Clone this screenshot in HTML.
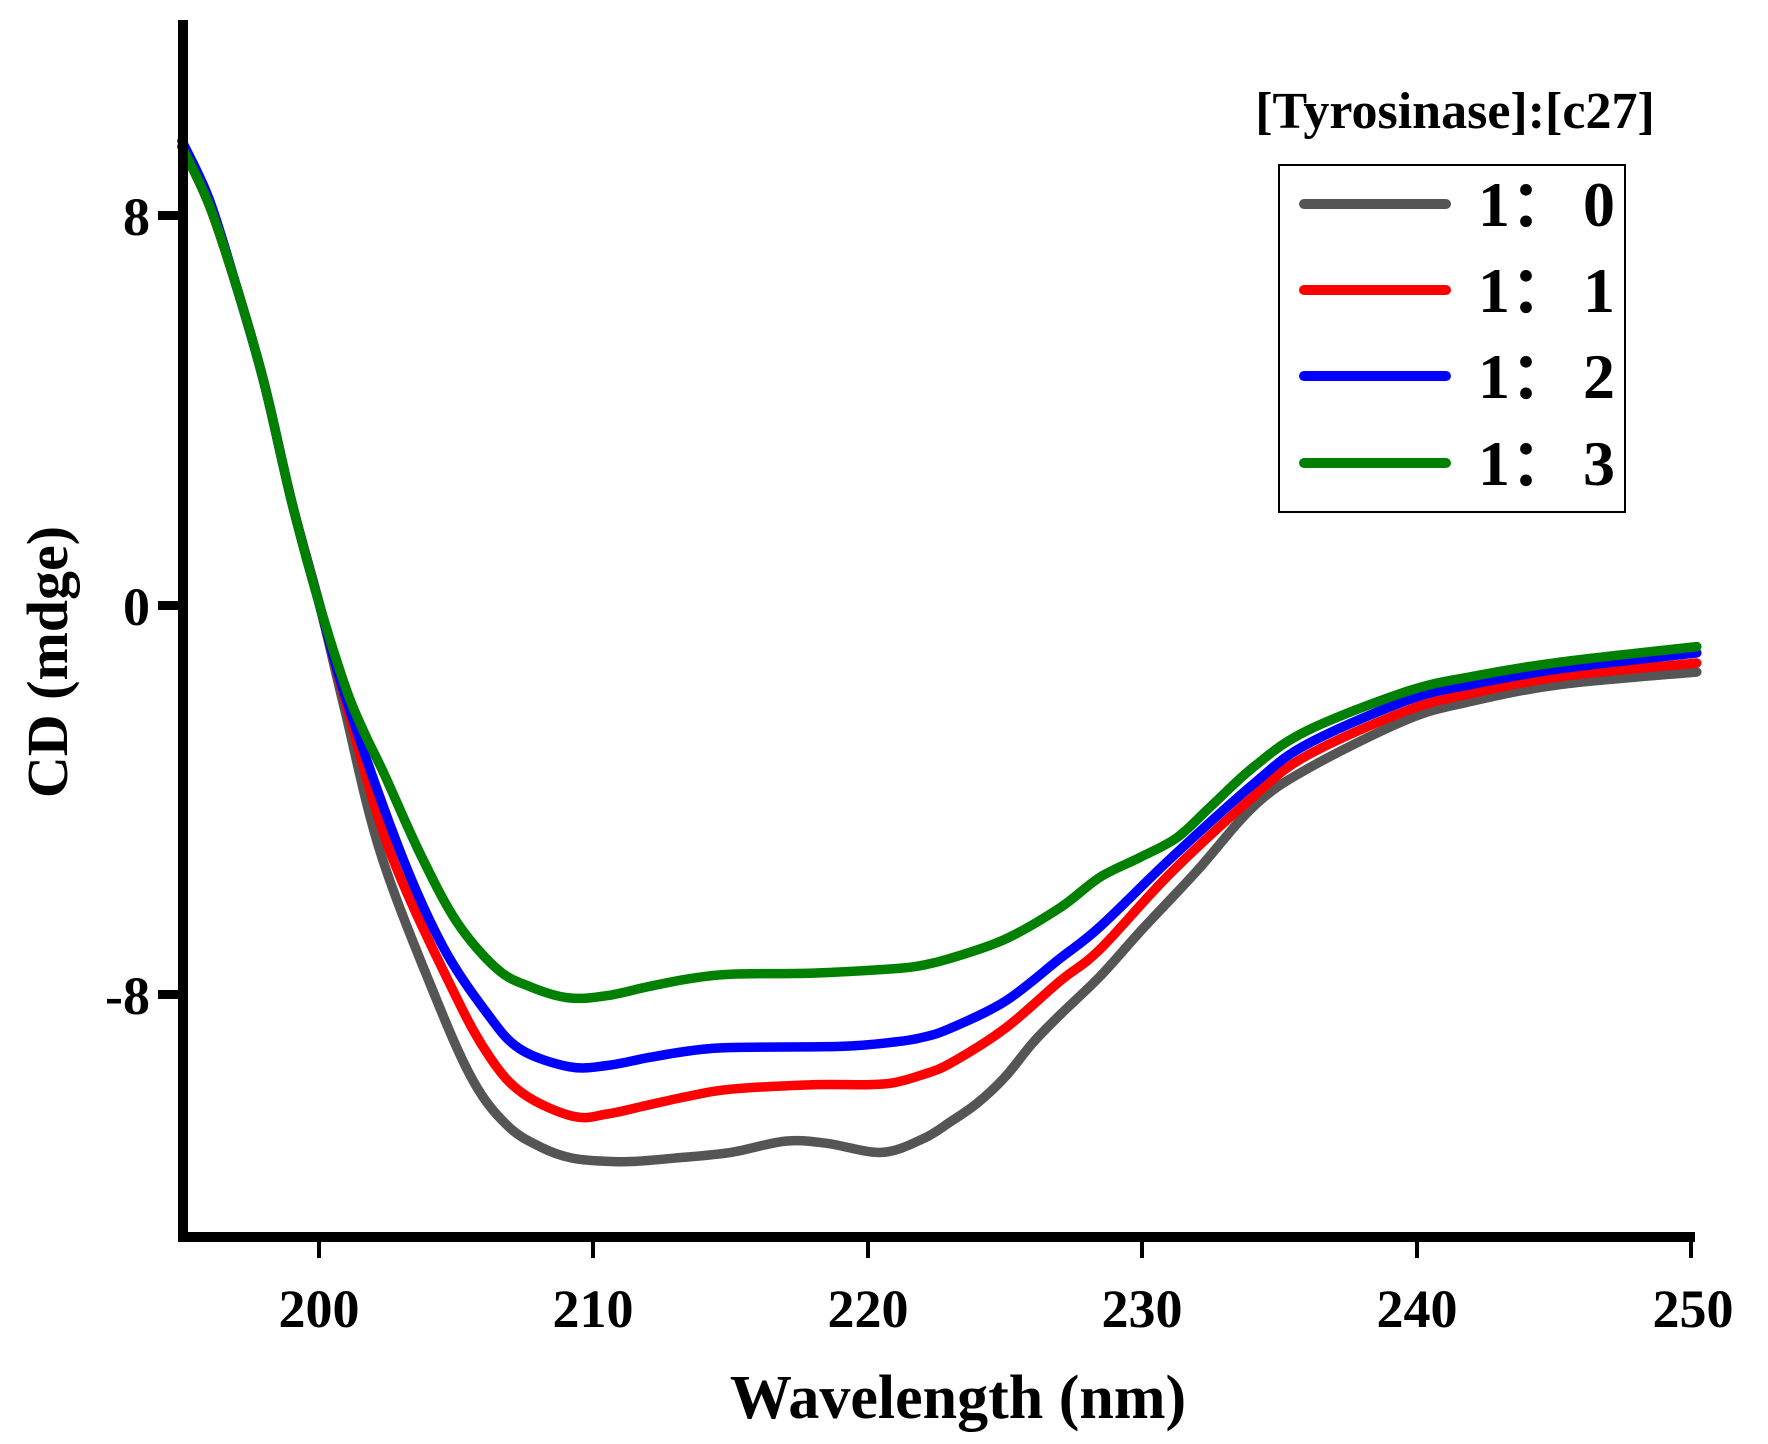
<!DOCTYPE html>
<html><head><meta charset="utf-8"><style>
html,body{margin:0;padding:0;background:#fff;}
svg{display:block;}
text{font-family:"Liberation Serif",serif;font-weight:bold;fill:#000;}
</style></head><body>
<svg id="s" width="1768" height="1444" viewBox="0 0 1768 1444" xmlns="http://www.w3.org/2000/svg">
<rect width="1768" height="1444" fill="#fff"/>
<g id="curves" fill="none" stroke-width="9.5" stroke-linejoin="round" stroke-linecap="round"></g>
<rect x="178" y="20" width="10" height="1222" fill="#000"/>
<rect x="178" y="1232" width="1517" height="10" fill="#000"/>
<rect x="158" y="211" width="22" height="9" fill="#000"/>
<rect x="158" y="601" width="22" height="9" fill="#000"/>
<rect x="158" y="990" width="22" height="9" fill="#000"/>
<g fill="#000">
<rect x="317" y="1240" width="4" height="18"/>
<rect x="591" y="1240" width="4" height="18"/>
<rect x="866" y="1240" width="4" height="18"/>
<rect x="1140" y="1240" width="4" height="18"/>
<rect x="1415" y="1240" width="4" height="18"/>
<rect x="1689" y="1240" width="4" height="18"/>
</g>
<g font-size="54" text-anchor="middle">
<text x="319" y="1327">200</text>
<text x="593" y="1327">210</text>
<text x="868" y="1327">220</text>
<text x="1142" y="1327">230</text>
<text x="1417" y="1327">240</text>
<text x="1693" y="1327">250</text>
</g>
<g font-size="54" text-anchor="end">
<text x="150" y="235">8</text>
<text x="150" y="625">0</text>
<text x="150" y="1014">-8</text>
</g>
<text x="958" y="1418" font-size="62" text-anchor="middle">Wavelength (nm)</text>
<text transform="translate(67,662) rotate(-90)" font-size="58" text-anchor="middle">CD (mdge)</text>
<text x="1455" y="128" font-size="52" text-anchor="middle">[Tyrosinase]:[c27]</text>
<rect x="1279" y="165" width="346" height="347" fill="none" stroke="#000" stroke-width="2"/>
<g stroke-width="10" stroke-linecap="round">
<line x1="1304" y1="204" x2="1446" y2="204" stroke="#555"/>
<line x1="1304" y1="290" x2="1446" y2="290" stroke="#f00"/>
<line x1="1304" y1="376" x2="1446" y2="376" stroke="#00f"/>
<line x1="1304" y1="463" x2="1446" y2="463" stroke="#008000"/>
</g>
<g font-size="64">
<text x="1478" y="226">1：</text><text x="1615" y="226" text-anchor="end">0</text>
<text x="1478" y="312">1：</text><text x="1615" y="312" text-anchor="end">1</text>
<text x="1478" y="398">1：</text><text x="1615" y="398" text-anchor="end">2</text>
<text x="1478" y="485">1：</text><text x="1615" y="485" text-anchor="end">3</text>
</g>
</svg>
<script>
var S=1.12755;
function X(w){return (283+(w-200)*24.34)*S;}
function Y(y){return y*S;}
var head=[[195,130],[196,182],[197,255],[198,340],[199,445],[200,535]];
var series=[
 ["#555",[[200.94,630],[202.22,755],[204.15,879],[205.6,958],[206.85,998],[208.05,1017],[209.2,1027],[210.5,1030],[211.5,1030],[213,1027],[215,1022],[217,1012],[218.5,1014],[220.5,1022],[222,1010],[223,995],[224,978],[225,955],[226,925],[227,900],[228.45,866],[230,824],[232,772],[234.06,715],[236,682],[239.66,638],[242,622],[245.27,607],[250.2,596]]],
 ["#f00",[[201,626],[202.58,755],[204.89,879],[206.23,938],[207.44,970],[209.25,990],[210.5,988],[212,980],[213.5,972],[215,966],[218,962],[220,962],[221,960],[222,953],[223,943],[225,912],[227,870],[228.45,842],[231,775],[234.06,706],[236,670],[239.66,630],[242,615],[245.27,600],[250.2,588]]],
 ["#00f",[[201,621],[202.95,755],[204.5,839],[206.1,898],[207.3,930],[209.1,946],[210.5,945],[212,938],[213.5,932],[215,929],[219,928],[221,924],[222,920],[223,912],[225,888],[227,850],[228.45,822],[231,762],[234.06,695],[236,660],[239.66,621],[242,607],[245.27,593],[250.2,579]]],
 ["#008000",[[201,612],[201.65,650],[202.4,688],[203.68,757],[205.0,817],[206.47,859],[207.68,875],[209.1,885],[210.5,883],[212,875],[213.5,868],[215,864],[218,863],[221,859],[222,856],[223,850],[225,833],[227,805],[228.45,778],[229.86,761],[231.25,743],[232.5,715],[234.06,680],[236,648],[239.66,613],[242,600],[245.27,587],[250.2,573.5]]]
];
function path(pts){
 var p=pts.map(function(a){return [X(a[0]),Y(a[1])];});
 var d="M"+p[0][0].toFixed(1)+","+p[0][1].toFixed(1);
 for(var i=0;i<p.length-1;i++){
  var p0=p[i-1]||p[i],p1=p[i],p2=p[i+1],p3=p[i+2]||p2;
  var c1x=p1[0]+(p2[0]-p0[0])/6,c1y=p1[1]+(p2[1]-p0[1])/6;
  var c2x=p2[0]-(p3[0]-p1[0])/6,c2y=p2[1]-(p3[1]-p1[1])/6;
  d+="C"+c1x.toFixed(1)+","+c1y.toFixed(1)+" "+c2x.toFixed(1)+","+c2y.toFixed(1)+" "+p2[0].toFixed(1)+","+p2[1].toFixed(1);
 }
 return d;
}
var g=document.getElementById("curves");
series.forEach(function(s,i){
 var h=head.map(function(a){return [a[0],a[1]-(i==2&&a[0]<197?5:0)];});
 var e=document.createElementNS("http://www.w3.org/2000/svg","path");
 e.setAttribute("d",path(h.concat(s[1])));
 e.setAttribute("stroke",s[0]);
 g.appendChild(e);
});
</script>
</body></html>
